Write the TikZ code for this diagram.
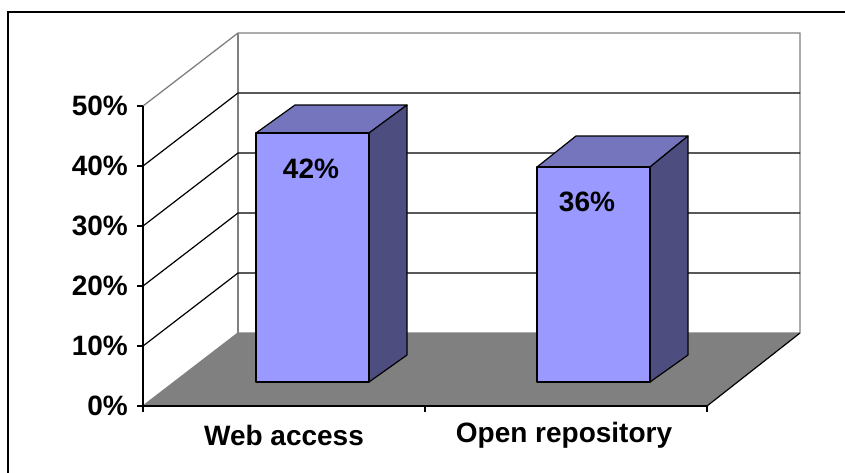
\documentclass[tikz,border=0pt]{standalone}
\usepackage{fontspec}
\setmainfont{Liberation Sans}
\usepackage{tikz}
\definecolor{barfront}{HTML}{9999FF}
\definecolor{bartop}{HTML}{7575BE}
\definecolor{barside}{HTML}{4D4D80}
\definecolor{floorgray}{HTML}{808080}
\tikzset{
	wall/.style={line width=1.3pt, color=floorgray},
	grid/.style={line width=1.2pt, color=black},
	face/.style={draw=black, line width=1.2pt, line join=round},
	lbl/.style={font=\bfseries\fontsize{28}{30}\selectfont, inner sep=0pt},
}

\begin{document}
\begin{tikzpicture}[x=1pt, y=-1pt]
		%%%%% START %%%%%
		
		\useasboundingbox (0, 0) rectangle (845, 472);
		\draw[line width=2pt] (8, 480) -- (8, 12) -- (850, 12);
		
		\fill[floorgray] (143, 406) -- (238, 333) -- (800, 333) -- (707, 406) -- cycle;
		\draw[wall] (143, 406) -- (238, 333) -- (800, 333);
		\draw[grid] (800, 333) -- (707, 406);
		
		\draw[wall] (143, 106) -- (238, 33) -- (800, 33) -- (800, 333);
		\draw[wall] (238, 33) -- (238, 333);
		
		\draw[grid] (143, 166) -- (238, 93) -- (800, 93);
		\draw[grid] (143, 226) -- (238, 153) -- (800, 153);
		\draw[grid] (143, 286) -- (238, 213) -- (800, 213);
		\draw[grid] (143, 346) -- (238, 273) -- (800, 273);
		
		\draw[grid] (143, 106) -- (143, 406) -- (707, 406);
		\draw[grid] (137, 106) -- (143, 106);
		\draw[grid] (137, 166) -- (143, 166);
		\draw[grid] (137, 226) -- (143, 226);
		\draw[grid] (137, 286) -- (143, 286);
		\draw[grid] (137, 346) -- (143, 346);
		\draw[grid] (137, 406) -- (143, 406);
		\draw[grid] (143, 406) -- (143, 412);
		\draw[grid] (425, 406) -- (425, 412);
		\draw[grid] (707, 406) -- (707, 412);
		
		\node[lbl, anchor=east] (y50) at (128, 106) {50\%};
		\node[lbl, anchor=east] (y40) at (128, 166) {40\%};
		\node[lbl, anchor=east] (y30) at (128, 226) {30\%};
		\node[lbl, anchor=east] (y20) at (128, 286) {20\%};
		\node[lbl, anchor=east] (y10) at (128, 346) {10\%};
		\node[lbl, anchor=east] (y0) at (128, 406) {0\%};
		
		\draw[face, fill=bartop] (256, 133) -- (295, 105) -- (407, 105) -- (369, 133) -- cycle;
		\draw[face, fill=barside] (369, 133) -- (407, 105) -- (407, 355) -- (369, 382) -- cycle;
		\draw[face, fill=barfront] (256, 133) rectangle (369, 382);
		\node[lbl] (webval) at (311, 169) {42\%};
		
		\draw[face, fill=bartop] (537, 167) -- (576, 136) -- (688, 136) -- (650, 167) -- cycle;
		\draw[face, fill=barside] (650, 167) -- (688, 136) -- (688, 355) -- (650, 382) -- cycle;
		\draw[face, fill=barfront] (537, 167) rectangle (650, 382);
		\node[lbl] (repoval) at (587, 202) {36\%};
		
		\node[lbl] (webcat) at (284, 435) {Web access};
		\node[lbl] (repocat) at (564, 435) {Open repository};
		
		%%%%% END %%%%%
	\end{tikzpicture}
\end{document}
